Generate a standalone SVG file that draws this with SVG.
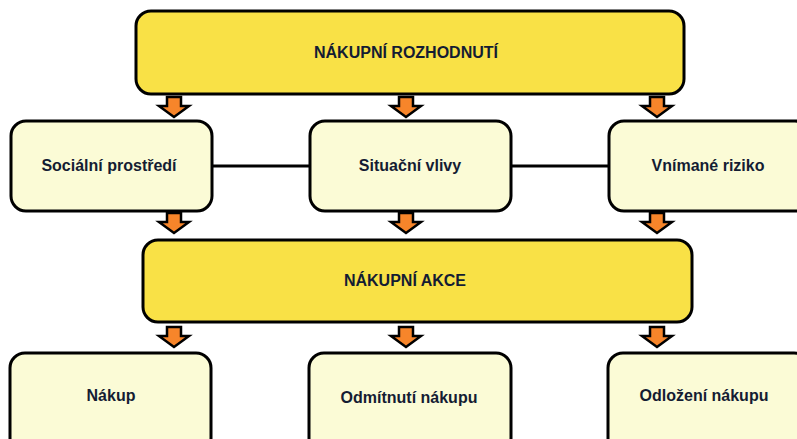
<svg xmlns="http://www.w3.org/2000/svg" xmlns:xlink="http://www.w3.org/1999/xlink" width="797" height="439" viewBox="0 0 797 439">
<defs>
<style>
.big{fill:#f9e146;stroke:#000;stroke-width:3}
.sm{fill:#fbfbd6;stroke:#000;stroke-width:3}
.t{font-family:"Liberation Sans",Arial,sans-serif;font-weight:bold;font-size:16px;fill:#141c33;text-anchor:middle}
.ln{stroke:#000;stroke-width:3;fill:none}
.ar{fill:#f7852a;stroke:#000;stroke-width:2.5;stroke-linejoin:miter}
</style>
<path id="arr" d="M-7,0 h14 v9 h8 l-15,11 l-15,-11 h8 z"/>
</defs>
<rect width="797" height="439" fill="#fff"/>
<g id="connectors">
<line class="ln" x1="212" y1="166" x2="310" y2="166"/>
<line class="ln" x1="511" y1="166" x2="608" y2="166"/>
<use class="ar" xlink:href="#arr" transform="translate(174,97)"/>
<use class="ar" xlink:href="#arr" transform="translate(406,97)"/>
<use class="ar" xlink:href="#arr" transform="translate(657,97)"/>
<use class="ar" xlink:href="#arr" transform="translate(174,213)"/>
<use class="ar" xlink:href="#arr" transform="translate(406,213)"/>
<use class="ar" xlink:href="#arr" transform="translate(657,213)"/>
<use class="ar" xlink:href="#arr" transform="translate(174,327)"/>
<use class="ar" xlink:href="#arr" transform="translate(406,327)"/>
<use class="ar" xlink:href="#arr" transform="translate(657,327)"/>
</g>
<g id="n-rozhodnuti">
<rect class="big" x="136" y="11" width="548" height="83" rx="15"/>
<text class="t" x="406" y="58">NÁKUPNÍ ROZHODNUTÍ</text>
</g>
<g id="n-socialni">
<rect class="sm" x="11" y="121" width="201" height="90" rx="15"/>
<text class="t" x="109" y="171">Sociální prostředí</text>
</g>
<g id="n-situacni">
<rect class="sm" x="310" y="121" width="201" height="90" rx="15"/>
<text class="t" x="410" y="171">Situační vlivy</text>
</g>
<g id="n-riziko">
<rect class="sm" x="609" y="121" width="201" height="90" rx="15"/>
<text class="t" x="708" y="171">Vnímané riziko</text>
</g>
<g id="n-akce">
<rect class="big" x="143" y="240" width="549" height="82" rx="15"/>
<text class="t" x="405" y="286">NÁKUPNÍ AKCE</text>
</g>
<g id="n-nakup">
<rect class="sm" x="10" y="353" width="201" height="100" rx="15"/>
<text class="t" x="111" y="401">Nákup</text>
</g>
<g id="n-odmitnuti">
<rect class="sm" x="309" y="353" width="202" height="100" rx="15"/>
<text class="t" x="409" y="403">Odmítnutí nákupu</text>
</g>
<g id="n-odlozeni">
<rect class="sm" x="608" y="353" width="201" height="100" rx="15"/>
<text class="t" x="704" y="401">Odložení nákupu</text>
</g>
</svg>
